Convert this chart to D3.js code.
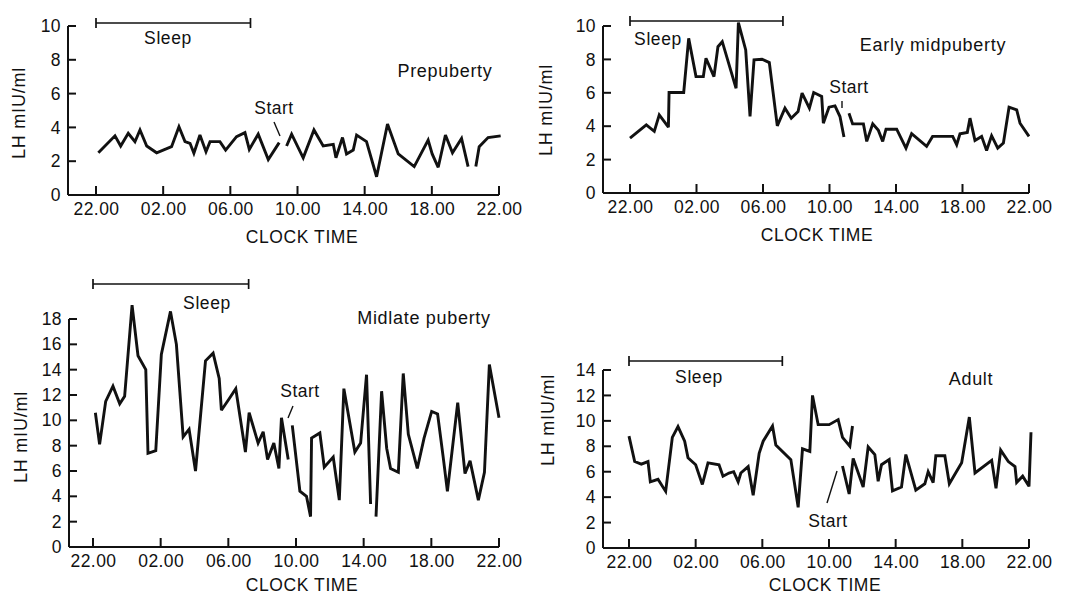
<!DOCTYPE html>
<html>
<head>
<meta charset="utf-8">
<script src="https://cdn.jsdelivr.net/npm/d3@7"></script>
<style>
  html, body { margin: 0; padding: 0; background: #fff; }
  svg { display: block; }
  text { font-family: "Liberation Sans", Arial, Helvetica, sans-serif; fill: #111; }
</style>
</head>
<body>
<svg id="chart" width="1065" height="598"></svg>
<script>
// ---------- DATA (hours after 22.00, LH mIU/ml; null = break in the trace) ----------
const xTickLabels = ["22.00", "02.00", "06.00", "10.00", "14.00", "18.00", "22.00"];
const xTickHours  = [0, 4, 8, 12, 16, 20, 24];
const panelTitles = ["Prepuberty", "Early midpuberty", "Midlate puberty", "Adult"];
const sleepSpan   = [0, 9.2];

const prepubertyHours = [0.14,1.13,1.47,1.92,2.32,2.62,3.02,3.61,4.5,4.94,5.3,5.6,5.83,6.19,6.55,6.79,7.38,7.72,8.37,8.87,9.13,9.66,10.26,10.91,null,
  11.35,11.65,12.34,12.98,13.53,14.13,14.29,14.68,14.92,15.32,15.52,16.11,16.71,17.36,18.0,18.95,19.78,20.02,20.38,20.81,21.23,21.77,22.16,null,
  22.62,22.82,23.35,24.1];
const prepubertyLH = [2.5,3.5,2.9,3.65,3.15,3.85,2.9,2.5,2.86,4.04,3.16,3.06,2.47,3.55,2.56,3.16,3.16,2.66,3.45,3.69,2.7,3.6,2.1,3.1,null,
  2.9,3.6,2.2,3.85,2.9,3.0,2.2,3.4,2.43,2.66,3.55,3.16,1.08,4.2,2.43,1.68,3.25,2.43,1.64,3.55,2.5,3.35,1.68,null,
  1.68,2.86,3.4,3.5];

const earlyHours = [0,0.98,1.46,1.76,2.31,2.35,3.23,3.53,3.97,4.41,4.57,5.05,5.29,5.55,6.38,6.52,6.96,7.22,7.46,7.94,8.38,8.86,9.32,9.7,10.11,10.35,10.79,11.05,11.53,11.63,11.97,12.33,12.63,12.87,null,
  13.17,13.39,14.04,14.24,14.6,14.94,15.2,15.4,16.04,16.6,16.94,17.84,18.2,19.41,19.65,19.85,20.29,20.45,20.75,21.15,21.45,21.75,22.12,22.46,22.8,23.26,23.46,24.0];
const earlyLH = [3.29,4.08,3.69,4.68,3.94,6.02,6.02,9.26,6.97,6.97,8.07,6.97,8.76,9.06,6.27,10.2,8.57,4.58,7.97,8.01,7.81,4.02,5.08,4.48,4.88,5.98,5.08,6.02,5.78,4.18,5.14,5.22,4.58,3.35,null,
  4.78,4.14,4.14,3.09,4.14,3.75,3.09,3.82,3.82,2.69,3.55,2.79,3.39,3.39,2.89,3.55,3.63,4.48,3.15,3.39,2.55,3.43,2.69,2.99,5.14,4.98,4.18,3.39];

const midlateHours = [0.14,0.39,0.75,1.18,1.58,1.87,2.31,2.66,3.12,3.25,3.71,4.04,4.58,4.93,5.33,5.68,6.06,6.65,7.1,7.46,7.59,8.05,8.44,9.01,9.23,9.76,10.06,10.32,10.69,10.99,11.14,11.54,null,
  11.78,12.23,12.62,12.86,12.92,13.41,13.67,14.2,14.56,14.83,15.48,15.82,16.17,16.41,null,
  16.73,17.06,17.36,17.59,18.05,18.34,18.64,19.17,19.57,20.02,20.37,20.71,20.95,21.56,21.99,22.29,22.78,23.14,23.43,24.0];
const midlateLH = [10.6,8.1,11.5,12.7,11.3,11.9,19.1,15.1,14.0,7.4,7.6,15.2,18.6,16.0,8.7,9.3,6.0,14.7,15.3,13.3,10.8,11.7,12.5,7.5,10.6,8.2,9.1,6.9,8.2,6.2,10.2,6.9,null,
  9.6,4.4,4.0,2.4,8.6,9.0,6.3,7.1,3.7,12.5,7.5,8.2,13.6,3.4,null,
  2.4,12.3,7.8,6.2,5.9,13.7,8.9,6.2,8.6,10.7,10.5,7.0,4.4,11.4,5.8,6.8,3.7,5.9,14.4,10.2];

const adultHours = [0,0.34,0.74,1.14,1.28,1.74,2.2,2.6,2.94,3.34,3.54,4.0,4.4,4.74,5.4,5.64,6.0,6.28,6.55,6.71,7.15,7.45,7.81,8.05,8.61,8.81,9.71,10.15,10.41,10.85,11.01,11.35,12.01,12.55,12.81,13.25,13.41,null,
  12.81,13.21,13.45,14.05,14.35,14.75,14.95,15.15,15.61,15.81,16.35,16.61,17.21,17.75,17.95,18.25,18.41,18.95,19.22,19.96,20.42,20.76,21.76,22.02,22.3,22.76,23.16,23.26,23.62,24.0,24.12];
const adultLH = [8.8,6.8,6.6,6.8,5.2,5.4,4.45,8.7,9.55,8.4,7.1,6.55,5.0,6.7,6.55,5.65,5.9,6.0,5.2,5.9,6.4,4.15,7.45,8.4,9.6,8.1,6.95,3.2,7.8,7.6,12.0,9.7,9.7,10.1,8.7,8.0,9.6,null,
  6.45,4.25,7.05,4.8,7.95,7.35,5.25,6.55,6.95,4.5,4.8,7.35,4.55,5.05,6.0,5.15,7.25,7.25,5.05,6.7,10.3,5.9,6.9,4.7,7.7,6.8,6.4,5.15,5.65,4.85,9.1];

// ---------- LAYOUT ----------
const panels = [
  { hours: prepubertyHours, lh: prepubertyLH, yMax: 10, axisX: 68, xL: 96, xR: 499, yB: 195, yT: 26,
    sleepY: 23, sleepLabel: [168, 44], title: [445, 77], start: [274, 114], startLine: [[274,122],[280,136]],
    ylab: [19, 113], xlab: [302, 243] },
  { hours: earlyHours, lh: earlyLH, yMax: 10, axisX: 603, xL: 630, xR: 1029, yB: 193, yT: 26,
    sleepY: 21, sleepLabel: [658, 45], title: [933, 51], start: [849, 93], startLine: [[842,101],[842,108]],
    ylab: [546, 110], xlab: [817, 241] },
  { hours: midlateHours, lh: midlateLH, yMax: 18, axisX: 69, xL: 93, xR: 499, yB: 547, yT: 319,
    sleepY: 284, sleepLabel: [207, 309], title: [424, 324], start: [300, 397], startLine: [[293,406],[288,418]],
    ylab: [21, 437], xlab: [302, 591] },
  { hours: adultHours, lh: adultLH, yMax: 14, axisX: 603, xL: 629, xR: 1029, yB: 548, yT: 370,
    sleepY: 361, sleepLabel: [699, 383], title: [971, 385], start: [828, 527], startLine: [[827,503],[837,471]],
    ylab: [548, 420], xlab: [825, 591] }
];

const svg = d3.select("#chart");
const ink = "#111";
const fam = '"Liberation Sans", Arial, sans-serif';

panels.forEach((p, i) => {
  const g = svg.append("g");
  const x = d3.scaleLinear().domain([0, 24]).range([p.xL, p.xR]);
  const y = d3.scaleLinear().domain([0, p.yMax]).range([p.yB, p.yT]);

  // x axis line + inward ticks
  const xAxis = d3.axisBottom(x).tickValues(xTickHours).tickSize(0)
    .tickFormat((d, k) => xTickLabels[k]).tickPadding(8);
  const gx = g.append("g").attr("transform", `translate(0,${p.yB})`).call(xAxis);
  gx.select(".domain").remove();
  gx.selectAll("text").attr("font-size", 17.5).attr("fill", ink).attr("letter-spacing", 0.4)
    .style("font-family", fam);
  g.append("line").attr("x1", p.axisX).attr("x2", x(24)).attr("y1", p.yB).attr("y2", p.yB)
    .attr("stroke", ink).attr("stroke-width", 2);
  g.selectAll(".xt").data(xTickHours).join("line")
    .attr("x1", d => x(d)).attr("x2", d => x(d)).attr("y1", p.yB).attr("y2", p.yB - 9)
    .attr("stroke", ink).attr("stroke-width", 2);

  // y axis
  const yTicks = d3.range(0, p.yMax + 1, 2);
  const yAxis = d3.axisLeft(y).tickValues(yTicks).tickSize(0).tickPadding(7);
  const gy = g.append("g").attr("transform", `translate(${p.axisX},0)`).call(yAxis);
  gy.select(".domain").remove();
  gy.selectAll("text").attr("font-size", 17.5).attr("fill", ink).attr("letter-spacing", 0.4)
    .style("font-family", fam);
  g.append("line").attr("x1", p.axisX).attr("x2", p.axisX).attr("y1", p.yB).attr("y2", y(p.yMax))
    .attr("stroke", ink).attr("stroke-width", 2);
  g.selectAll(".yt").data(yTicks).join("line")
    .attr("x1", p.axisX).attr("x2", p.axisX + 8).attr("y1", d => y(d)).attr("y2", d => y(d))
    .attr("stroke", ink).attr("stroke-width", 2);

  // axis titles
  g.append("text").attr("x", p.xlab[0]).attr("y", p.xlab[1]).attr("text-anchor", "middle")
    .attr("font-size", 17.5).attr("letter-spacing", 0.6).text("CLOCK TIME");
  g.append("text").attr("transform", `translate(${p.ylab[0]},${p.ylab[1]}) rotate(-90)`)
    .attr("text-anchor", "middle").attr("dy", "0.35em").attr("font-size", 18)
    .attr("letter-spacing", 0.8).text("LH mIU/ml");

  // sleep bar
  const sx0 = x(sleepSpan[0]), sx1 = x(sleepSpan[1]);
  g.append("line").attr("x1", sx0).attr("x2", sx1).attr("y1", p.sleepY).attr("y2", p.sleepY)
    .attr("stroke", ink).attr("stroke-width", 1.7);
  [sx0, sx1].forEach(sx => g.append("line").attr("x1", sx).attr("x2", sx)
    .attr("y1", p.sleepY - 5).attr("y2", p.sleepY + 5).attr("stroke", ink).attr("stroke-width", 1.7));
  g.append("text").attr("x", p.sleepLabel[0]).attr("y", p.sleepLabel[1]).attr("text-anchor", "middle")
    .attr("font-size", 17.5).attr("letter-spacing", 0.6).text("Sleep");

  // titles and start markers
  g.append("text").attr("x", p.title[0]).attr("y", p.title[1]).attr("text-anchor", "middle")
    .attr("font-size", 18).attr("letter-spacing", 0.7).text(panelTitles[i]);
  g.append("text").attr("x", p.start[0]).attr("y", p.start[1]).attr("text-anchor", "middle")
    .attr("font-size", 17.5).attr("letter-spacing", 0.5).text("Start");
  g.append("line").attr("x1", p.startLine[0][0]).attr("y1", p.startLine[0][1])
    .attr("x2", p.startLine[1][0]).attr("y2", p.startLine[1][1]).attr("stroke", ink).attr("stroke-width", 1.4);

  // LH trace
  const pts = p.hours.map((h, k) => ({ h, v: p.lh[k] }));
  const line = d3.line().defined(d => d.h !== null && d.v !== null)
    .x(d => x(d.h)).y(d => y(d.v)).curve(d3.curveLinear);
  g.append("path").datum(pts).attr("d", line).attr("fill", "none")
    .attr("stroke", ink).attr("stroke-width", 2.9).attr("stroke-linejoin", "miter").attr("stroke-miterlimit", 3);
});
</script>
</body>
</html>
